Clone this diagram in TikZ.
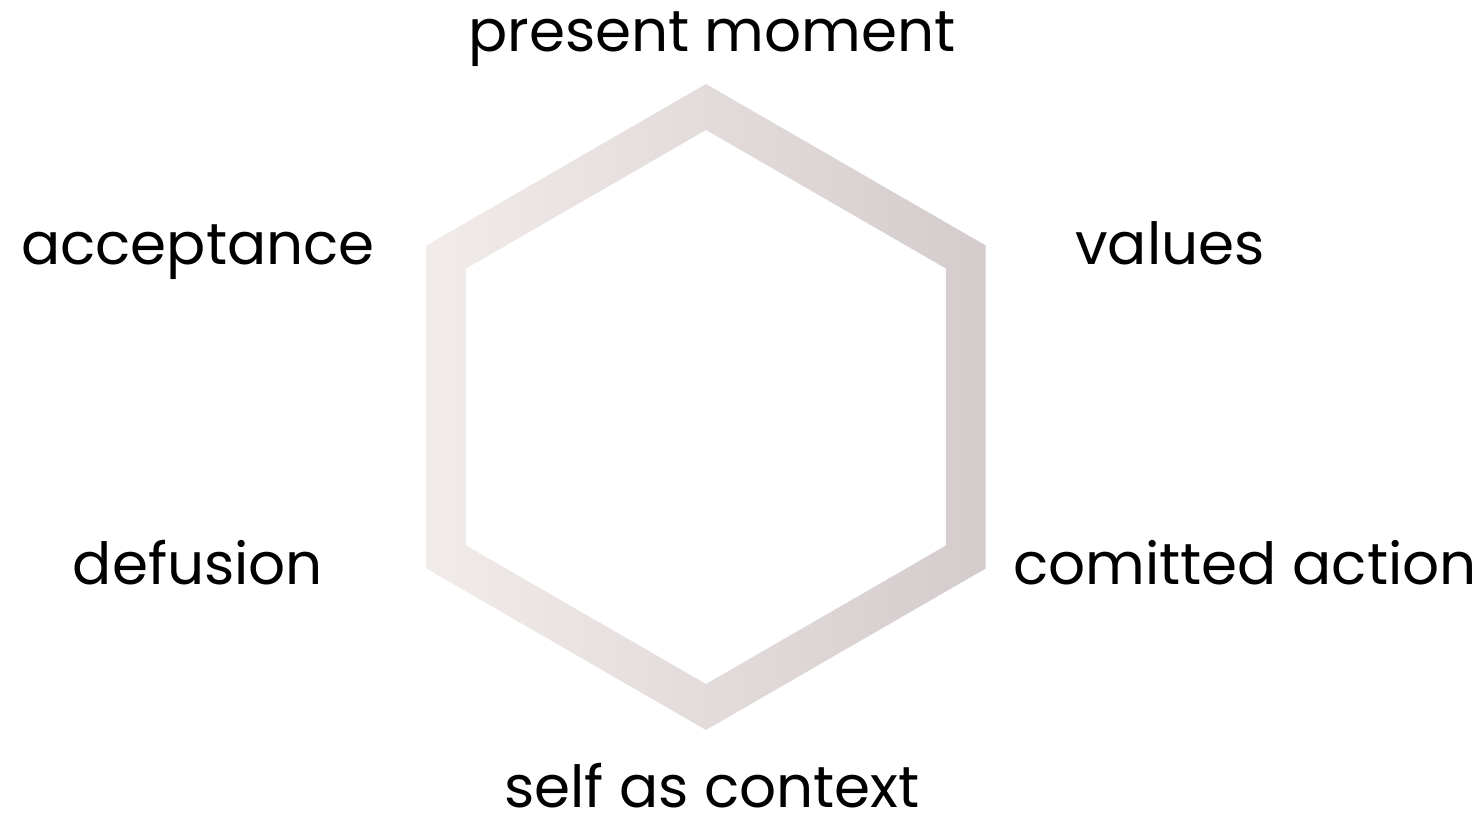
\documentclass[tikz,border=0pt]{standalone}
\usepackage{fontspec}
\setmainfont{Poppins}
\usepackage{tikz}
\usepackage{xcolor}
\usetikzlibrary{calc}
\definecolor{frameLight}{RGB}{241,235,234}
\definecolor{frameDark}{RGB}{212,204,204}

\begin{document}
\begin{tikzpicture}[
    label/.style={font=\fontsize{33}{40}\selectfont, anchor=base, inner sep=0pt},
    frame/.style={even odd rule, left color=frameLight, right color=frameDark}]
\useasboundingbox (0,0) rectangle (29.68,16.48);
\coordinate (c) at (14.12,8.34);

\shade[frame] ($(c)+(90:6.46)$) -- ($(c)+(150:6.46)$) -- ($(c)+(210:6.46)$)
    -- ($(c)+(270:6.46)$) -- ($(c)+(330:6.46)$) -- ($(c)+(30:6.46)$) -- cycle
    ($(c)+(90:5.54)$) -- ($(c)+(150:5.54)$) -- ($(c)+(210:5.54)$)
    -- ($(c)+(270:5.54)$) -- ($(c)+(330:5.54)$) -- ($(c)+(30:5.54)$) -- cycle;

\node[label] (pm) at (14.24,15.44) {present moment};
\node[label] (acc) at (3.96,11.18) {acceptance};
\node[label] (val) at (23.40,11.18) {values};
\node[label] (def) at (3.96,4.78) {defusion};
\node[label] (ca) at (24.90,4.78) {comitted action};
\node[label] (sac) at (14.24,0.34) {self as context};
\end{tikzpicture}
\end{document}
